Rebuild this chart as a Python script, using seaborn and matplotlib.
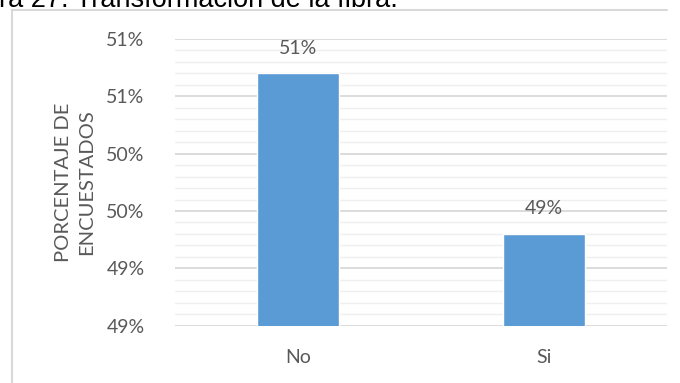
import matplotlib
matplotlib.use("Agg")
import matplotlib.pyplot as plt
from matplotlib.lines import Line2D
from matplotlib.ticker import MultipleLocator, FixedLocator, FixedFormatter
import seaborn as sns
import pandas as pd

# Survey answers: share of respondents
categories = ["No", "Si"]
shares = [0.507, 0.493]

# Value axis as laid out in the source workbook
y_ticks = [0.485, 0.490, 0.495, 0.500, 0.505, 0.510]
y_tick_labels = ["49%", "49%", "50%", "50%", "51%", "51%"]

title_text = "Figura 27. Transformación de la fibra."
y_title = "PORCENTAJE DE\nENCUESTADOS"

sns.set_theme(style="white")
plt.rcParams["font.family"] = ["Lato", "DejaVu Sans"]

TEXT = "#595959"
BAR = "#5B9BD5"
MAJOR = "#D9D9D9"
MINOR = "#EFEFEF"

W, H = 680, 383
fig = plt.figure(figsize=(W / 100, H / 100), dpi=100)
ax = fig.add_axes([175 / W, (H - 325.7) / H, (667 - 175) / W, (325.7 - 39) / H])

df = pd.DataFrame({"respuesta": categories, "porcentaje": shares})
sns.barplot(data=df, x="respuesta", y="porcentaje", color=BAR, width=0.334,
            saturation=1, ax=ax, zorder=3)

ax.set_ylim(y_ticks[0], y_ticks[-1])
ax.set_xlim(-0.5, len(categories) - 0.5)
ax.yaxis.set_major_locator(FixedLocator(y_ticks))
ax.yaxis.set_major_formatter(FixedFormatter(y_tick_labels))
ax.yaxis.set_minor_locator(MultipleLocator(0.001))
ax.grid(which="major", axis="y", color=MAJOR, linewidth=1.3, zorder=0)
ax.grid(which="minor", axis="y", color=MINOR, linewidth=1.0, zorder=0)
ax.set_axisbelow(True)
for s in ax.spines.values():
    s.set_visible(False)

ax.tick_params(axis="y", which="both", length=0, pad=22, labelsize=14, labelcolor=TEXT)
ax.tick_params(axis="x", length=0, pad=17, labelsize=14, labelcolor=TEXT)
ax.set_xlabel("")
ax.set_ylabel(y_title, fontsize=14.5, color=TEXT, labelpad=8, linespacing=1.45)

for patch, val in zip(ax.patches, shares):
    ax.annotate(f"{round(val * 100)}%",
                (patch.get_x() + patch.get_width() / 2, patch.get_height()),
                xytext=(0, 12), textcoords="offset points",
                ha="center", va="bottom", fontsize=14, color=TEXT)

# chart frame (left and top edges)
fig.add_artist(Line2D([12 / W, 12 / W], [0, 1 - 10 / H], transform=fig.transFigure,
                      color=MAJOR, linewidth=1.5))
fig.add_artist(Line2D([12 / W, 667 / W], [1 - 10 / H, 1 - 10 / H],
                      transform=fig.transFigure, color=MAJOR, linewidth=1.5))

# caption line above the chart, clipped by the image edge
fig.text(-54 / W, 1 - 7 / H, title_text, ha="left", va="baseline",
         fontsize=19.5, color="black", family=["Liberation Sans", "DejaVu Sans"])

fig.savefig("out.png", dpi=100)
